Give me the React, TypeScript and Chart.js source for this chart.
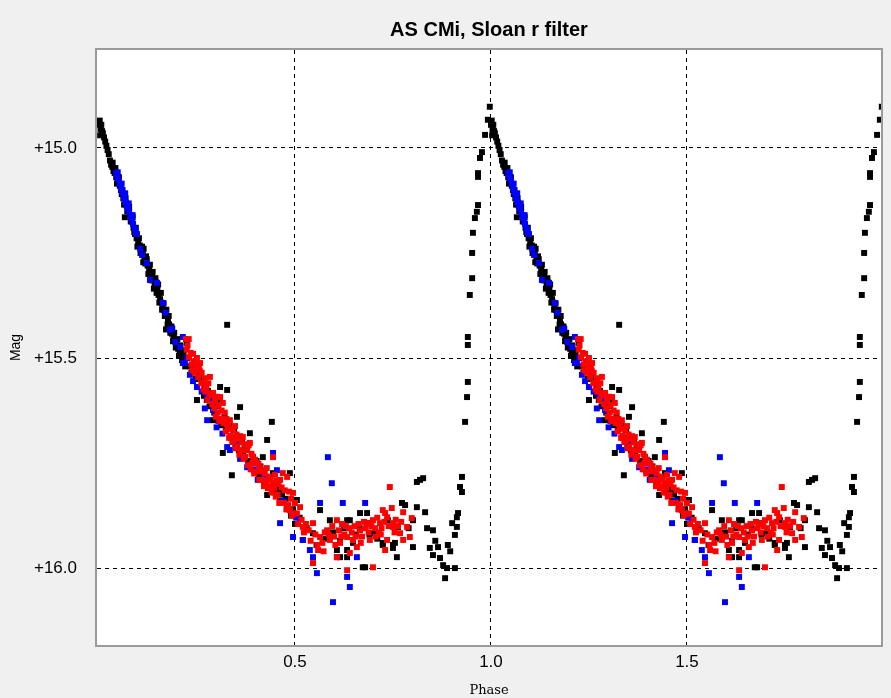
import React, { useEffect, useRef } from "react";
import { Chart, registerables } from "chart.js";

Chart.register(...registerables);

const chartTitle = "AS CMi, Sloan r filter";
const xAxisLabel = "Phase";
const yAxisLabel = "Mag";
const xTicks = [0.5, 1.0, 1.5];
const yTicks = [15.0, 15.5, 16.0];
const cycleOffsets = [0, 1];

// [phase, magnitude]
const blackPts: [number, number][] = [
  [0.000, 14.945], [0.002, 14.935], [0.004, 14.955], [0.006, 14.945], [0.008, 14.96], [0.003, 14.97],
  [0.010, 14.965], [0.013, 14.975], [0.016, 14.985], [0.019, 14.995], [0.022, 15.005], [0.025, 15.015],
  [0.028, 15.03], [0.031, 15.04], [0.034, 15.045], [0.037, 15.055], [0.040, 15.06], [0.044, 15.07],
  [0.048, 15.08], [0.053, 15.09], [0.058, 15.11], [0.062, 15.12], [0.066, 15.165], [0.070, 15.135],
  [0.075, 15.15], [0.079, 15.16], [0.084, 15.175], [0.088, 15.19], [0.092, 15.205], [0.096, 15.215],
  [0.100, 15.225], [0.104, 15.232], [0.108, 15.245], [0.112, 15.25], [0.116, 15.262], [0.120, 15.258],
  [0.113, 15.272], [0.124, 15.28], [0.128, 15.288], [0.131, 15.298], [0.135, 15.305], [0.138, 15.315],
  [0.142, 15.325], [0.145, 15.32], [0.149, 15.338], [0.152, 15.35], [0.156, 15.36], [0.159, 15.368],
  [0.162, 15.375], [0.166, 15.386], [0.169, 15.392], [0.173, 15.4], [0.176, 15.412], [0.179, 15.42],
  [0.171, 15.432], [0.183, 15.435], [0.186, 15.442], [0.190, 15.452], [0.194, 15.46], [0.198, 15.47],
  [0.202, 15.478], [0.206, 15.488], [0.210, 15.482], [0.214, 15.498], [0.224, 15.464], [0.218, 15.508],
  [0.035, 15.035], [0.042, 15.048], [0.046, 15.085], [0.051, 15.07], [0.056, 15.1], [0.060, 15.1],
  [0.064, 15.135], [0.068, 15.12], [0.072, 15.15], [0.077, 15.14], [0.081, 15.175], [0.086, 15.165],
  [0.090, 15.2], [0.094, 15.19], [0.098, 15.235], [0.102, 15.215], [0.106, 15.25], [0.110, 15.235],
  [0.114, 15.24], [0.118, 15.275], [0.122, 15.265], [0.126, 15.3], [0.130, 15.278], [0.133, 15.315],
  [0.137, 15.295], [0.140, 15.335], [0.144, 15.31], [0.147, 15.345], [0.151, 15.325], [0.154, 15.368],
  [0.158, 15.345], [0.161, 15.385], [0.165, 15.37], [0.168, 15.4], [0.172, 15.385], [0.175, 15.42],
  [0.178, 15.4], [0.182, 15.44], [0.185, 15.425], [0.189, 15.46], [0.192, 15.44], [0.196, 15.475],
  [0.200, 15.455], [0.204, 15.495], [0.208, 15.47], [0.212, 15.505], [0.216, 15.485], [0.220, 15.52],
  [0.226, 15.5], [0.232, 15.52], [0.236, 15.535], [0.241, 15.525], [0.247, 15.55], [0.253, 15.535],
  [0.268, 15.59], [0.275, 15.6], [0.282, 15.615], [0.294, 15.63], [0.303, 15.6], [0.312, 15.66],
  [0.324, 15.67], [0.337, 15.69], [0.348, 15.705], [0.357, 15.72], [0.368, 15.73], [0.380, 15.745],
  [0.397, 15.77], [0.408, 15.78], [0.422, 15.8], [0.447, 15.82], [0.462, 15.84], [0.480, 15.86],
  [0.490, 15.875], [0.500, 15.895],
  [0.327, 15.421], [0.250, 15.6], [0.258, 15.545], [0.263, 15.555], [0.270, 15.565], [0.278, 15.578],
  [0.285, 15.59], [0.291, 15.648], [0.298, 15.615], [0.309, 15.569], [0.316, 15.726], [0.320, 15.64],
  [0.327, 15.576], [0.333, 15.66], [0.339, 15.779], [0.345, 15.672], [0.352, 15.64], [0.360, 15.617],
  [0.365, 15.695], [0.372, 15.708], [0.385, 15.679], [0.392, 15.735], [0.402, 15.745], [0.412, 15.758],
  [0.418, 15.736], [0.429, 15.695], [0.429, 15.826], [0.436, 15.785], [0.441, 15.652], [0.444, 15.774],
  [0.452, 15.8], [0.459, 15.812], [0.467, 15.825], [0.476, 15.835], [0.487, 15.774], [0.495, 15.86],
  [0.505, 15.838], [0.512, 15.88], [0.520, 15.933], [0.530, 15.905], [0.546, 15.917], [0.555, 15.945],
  [0.564, 15.862], [0.575, 15.93], [0.589, 15.886], [0.597, 15.915], [0.607, 15.957], [0.615, 15.935],
  [0.615, 15.974], [0.625, 15.905], [0.633, 15.974], [0.633, 15.886], [0.633, 15.957], [0.640, 15.886],
  [0.648, 15.94], [0.655, 15.92], [0.666, 15.869], [0.665, 15.905], [0.673, 15.998], [0.679, 15.998],
  [0.684, 15.869], [0.684, 15.893], [0.690, 15.92], [0.699, 15.917], [0.710, 15.93], [0.724, 15.94],
  [0.724, 15.945], [0.737, 15.886], [0.750, 15.945], [0.750, 15.952], [0.755, 15.94], [0.760, 15.974],
  [0.763, 15.902], [0.773, 15.845], [0.781, 15.85], [0.790, 15.905], [0.801, 15.886], [0.801, 15.95],
  [0.811, 15.855], [0.811, 15.795], [0.819, 15.79], [0.827, 15.786], [0.832, 15.867], [0.837, 15.905],
  [0.844, 15.952], [0.852, 15.91], [0.852, 15.969], [0.858, 15.935], [0.865, 15.95], [0.870, 15.976],
  [0.878, 15.993], [0.883, 16.024], [0.888, 16.0], [0.890, 15.945], [0.896, 15.96], [0.901, 15.893],
  [0.908, 16.0], [0.908, 15.921], [0.913, 15.902], [0.913, 15.879], [0.916, 15.869], [0.921, 15.807],
  [0.926, 15.783], [0.926, 15.819], [0.934, 15.652], [0.939, 15.593], [0.941, 15.557], [0.941, 15.469],
  [0.941, 15.45], [0.946, 15.35], [0.952, 15.31], [0.952, 15.25], [0.954, 15.202], [0.959, 15.167],
  [0.964, 15.152], [0.967, 15.136], [0.967, 15.069], [0.967, 15.06], [0.972, 15.024], [0.977, 15.01],
  [0.985, 14.969], [0.992, 14.933], [0.997, 14.902],
];

const bluePts: [number, number][] = [
  [0.044, 15.06], [0.047, 15.068], [0.050, 15.075], [0.053, 15.085], [0.056, 15.095], [0.059, 15.102],
  [0.061, 15.108], [0.064, 15.118], [0.066, 15.124], [0.069, 15.13], [0.071, 15.138], [0.074, 15.145],
  [0.077, 15.152], [0.080, 15.16], [0.082, 15.167], [0.085, 15.175], [0.087, 15.181], [0.091, 15.192],
  [0.094, 15.2], [0.105, 15.24], [0.110, 15.255], [0.122, 15.274],
  [0.130, 15.314], [0.148, 15.321], [0.163, 15.369],
  [0.170, 15.392], [0.181, 15.433], [0.195, 15.462], [0.207, 15.474], [0.214, 15.45],
  [0.214, 15.512], [0.219, 15.512], [0.232, 15.54], [0.250, 15.569], [0.262, 15.58], [0.276, 15.593],
  [0.276, 15.648], [0.291, 15.624], [0.305, 15.65], [0.327, 15.712], [0.334, 15.719], [0.350, 15.7],
  [0.378, 15.76], [0.395, 15.765], [0.420, 15.78], [0.444, 15.726], [0.454, 15.767], [0.462, 15.893],
  [0.470, 15.84], [0.480, 15.855], [0.495, 15.926], [0.503, 15.88], [0.520, 15.933], [0.538, 15.957],
  [0.546, 15.974], [0.556, 16.012], [0.564, 15.845], [0.584, 15.736], [0.594, 15.798], [0.597, 16.081],
  [0.607, 15.974], [0.622, 15.845], [0.633, 16.021], [0.640, 16.045], [0.658, 15.974], [0.679, 15.845],
  [0.048, 15.058], [0.058, 15.085], [0.067, 15.108], [0.076, 15.132], [0.086, 15.16], [0.097, 15.205],
  [0.187, 15.43], [0.225, 15.5], [0.240, 15.555],
  [0.270, 15.62], [0.285, 15.6], [0.300, 15.665], [0.315, 15.68], [0.360, 15.74], [0.405, 15.79],
];

const redPts: [number, number][] = [
  [0.222, 15.455], [0.226, 15.47], [0.230, 15.498], [0.234, 15.488], [0.238, 15.529], [0.242, 15.508],
  [0.246, 15.515], [0.250, 15.5], [0.255, 15.52], [0.258, 15.512], [0.262, 15.535], [0.265, 15.56],
  [0.270, 15.548], [0.274, 15.572], [0.279, 15.56], [0.283, 15.545], [0.287, 15.588], [0.291, 15.583],
  [0.296, 15.6], [0.300, 15.592], [0.305, 15.612], [0.309, 15.593], [0.313, 15.625], [0.316, 15.607],
  [0.321, 15.63], [0.325, 15.645], [0.330, 15.658], [0.334, 15.648], [0.338, 15.668], [0.342, 15.671],
  [0.347, 15.662], [0.351, 15.682], [0.356, 15.692], [0.360, 15.686], [0.364, 15.7], [0.367, 15.688],
  [0.371, 15.705], [0.375, 15.718], [0.378, 15.719], [0.382, 15.708], [0.385, 15.702], [0.389, 15.728],
  [0.393, 15.735], [0.398, 15.742], [0.403, 15.75], [0.407, 15.752], [0.411, 15.76], [0.414, 15.77],
  [0.418, 15.767], [0.423, 15.775], [0.428, 15.762], [0.433, 15.782], [0.438, 15.79], [0.444, 15.736],
  [0.444, 15.798], [0.449, 15.778], [0.453, 15.792], [0.458, 15.8], [0.462, 15.79], [0.466, 15.808],
  [0.469, 15.774], [0.474, 15.815], [0.480, 15.783], [0.485, 15.818], [0.487, 15.862], [0.490, 15.835],
  [0.495, 15.821], [0.500, 15.845], [0.505, 15.87], [0.513, 15.855], [0.517, 15.885], [0.520, 15.902],
  [0.528, 15.895], [0.535, 15.91], [0.546, 15.893], [0.546, 15.988], [0.552, 15.92], [0.559, 15.957],
  [0.564, 15.926], [0.570, 15.94], [0.576, 15.915], [0.582, 15.91], [0.589, 15.933], [0.595, 15.9],
  [0.600, 15.925], [0.607, 15.886], [0.607, 15.974], [0.612, 15.91], [0.615, 15.94], [0.620, 15.895],
  [0.626, 15.92], [0.633, 15.926], [0.633, 16.005], [0.638, 15.905], [0.640, 15.964], [0.645, 15.915],
  [0.648, 15.933], [0.652, 15.9], [0.658, 15.95], [0.662, 15.895], [0.666, 15.91], [0.671, 15.925],
  [0.676, 15.89], [0.680, 15.905], [0.684, 15.893], [0.688, 15.915], [0.691, 15.933], [0.695, 15.9],
  [0.699, 15.886], [0.699, 15.998], [0.704, 15.905], [0.710, 15.88], [0.714, 15.915], [0.717, 15.893],
  [0.721, 15.905], [0.724, 15.862], [0.728, 15.89], [0.730, 15.869], [0.730, 15.957], [0.735, 15.879],
  [0.735, 15.933], [0.742, 15.807], [0.747, 15.857], [0.750, 15.893], [0.750, 15.902], [0.757, 15.885],
  [0.763, 15.9], [0.768, 15.917], [0.776, 15.867], [0.776, 15.933], [0.786, 15.902], [0.793, 15.926],
  [0.798, 15.881],
  [0.224, 15.48], [0.229, 15.455], [0.236, 15.515], [0.240, 15.49], [0.244, 15.535], [0.249, 15.525],
  [0.253, 15.545], [0.257, 15.53], [0.261, 15.56], [0.267, 15.575], [0.272, 15.58], [0.277, 15.6],
  [0.281, 15.585], [0.289, 15.61], [0.294, 15.62], [0.298, 15.64], [0.303, 15.63], [0.307, 15.65],
  [0.311, 15.645], [0.318, 15.655], [0.323, 15.675], [0.328, 15.668], [0.332, 15.69], [0.336, 15.685],
  [0.340, 15.7], [0.345, 15.695], [0.349, 15.715], [0.353, 15.71], [0.358, 15.73], [0.362, 15.72],
  [0.369, 15.74], [0.373, 15.735], [0.380, 15.755], [0.387, 15.765], [0.391, 15.75], [0.396, 15.775],
  [0.401, 15.77], [0.409, 15.79], [0.416, 15.79], [0.421, 15.805], [0.426, 15.795], [0.431, 15.81],
  [0.436, 15.805], [0.441, 15.82], [0.447, 15.81], [0.451, 15.83], [0.456, 15.825], [0.460, 15.845],
  [0.472, 15.845], [0.478, 15.86], [0.483, 15.85], [0.492, 15.875], [0.498, 15.87], [0.508, 15.895],
  [0.523, 15.915], [0.540, 15.935], [0.557, 15.945], [0.573, 15.96],
  [0.586, 15.92], [0.603, 15.945], [0.618, 15.925], [0.630, 15.9], [0.655, 15.925], [0.668, 15.94],
  [0.690, 15.895], [0.706, 15.925], [0.719, 15.92], [0.739, 15.9], [0.754, 15.915], [0.771, 15.89],
];

const fold = (pts: [number, number][]) =>
  cycleOffsets.flatMap((c) => pts.map(([p, m]) => ({ x: p + c, y: m })));

const framePlugin = {
  id: "framePlugin",
  beforeDraw(chart: any) {
    const { ctx, width, height, chartArea } = chart;
    const { left, top, right, bottom } = chartArea;
    ctx.save();
    ctx.fillStyle = "#f0f0f0";
    ctx.fillRect(0, 0, width, height);
    ctx.fillStyle = "#ffffff";
    ctx.fillRect(left, top, right - left, bottom - top);
    ctx.restore();
  },
  afterDraw(chart: any) {
    const { ctx, chartArea } = chart;
    const { left, top, right, bottom } = chartArea;
    ctx.save();
    ctx.strokeStyle = "#9a9a9a";
    ctx.lineWidth = 2;
    ctx.strokeRect(left - 1, top - 1, right - left + 2, bottom - top + 2);
    ctx.restore();
  },
};

const tickFont = { family: "'Liberation Sans', Arial, sans-serif", size: 17 };

export default function App() {
  const ref = useRef<HTMLCanvasElement>(null);

  useEffect(() => {
    const pointCommon = {
      showLine: false,
      pointStyle: "rect" as const,
      pointRadius: 4.2,
      pointHoverRadius: 4.2,
      pointBorderWidth: 0,
      clip: 0,
    };
    const chart = new Chart(ref.current!, {
      type: "scatter",
      data: {
        datasets: [
          { label: "red", data: fold(redPts), pointBackgroundColor: "#ff0000", ...pointCommon },
          { label: "blue", data: fold(bluePts), pointBackgroundColor: "#0000ff", ...pointCommon },
          { label: "black", data: fold(blackPts), pointBackgroundColor: "#000000", ...pointCommon },
        ],
      },
      options: {
        responsive: false,
        devicePixelRatio: 1,
        animation: false,
        layout: { padding: { left: 0, right: 10, top: 0, bottom: 0 } },
        plugins: {
          legend: { display: false },
          tooltip: { enabled: false },
          title: {
            display: true,
            text: chartTitle,
            fullSize: false,
            color: "#000",
            font: { family: "'Liberation Sans', Arial, sans-serif", size: 20, weight: "bold" },
            padding: { top: 18, bottom: 8 },
          },
        },
        scales: {
          x: {
            type: "linear",
            min: -0.005,
            max: 1.995,
            afterBuildTicks: (scale: any) => {
              scale.ticks = xTicks.map((v) => ({ value: v }));
            },
            afterFit: (scale: any) => {
              scale.height = 53;
            },
            ticks: {
              color: "#000",
              font: tickFont,
              padding: 7,
              maxRotation: 0,
              autoSkip: false,
              callback: (v: any) => Number(v).toFixed(1),
            },
            grid: { color: "#000", lineWidth: 1, drawTicks: false },
            border: { display: false, dash: [4, 4] },
            title: {
              display: true,
              text: xAxisLabel,
              color: "#000",
              font: { family: "'DejaVu Serif', serif", size: 13 },
              padding: { top: 0, bottom: 0 },
            },
          },
          y: {
            type: "linear",
            reverse: true,
            min: 14.767,
            max: 16.183,
            afterBuildTicks: (scale: any) => {
              scale.ticks = yTicks.map((v) => ({ value: v }));
            },
            afterFit: (scale: any) => {
              scale.width = 97;
            },
            ticks: {
              color: "#000",
              font: tickFont,
              padding: 20,
              autoSkip: false,
              callback: (v: any) => "+" + Number(v).toFixed(1),
            },
            grid: { color: "#000", lineWidth: 1, drawTicks: false },
            border: { display: false, dash: [4, 4] },
            title: {
              display: true,
              text: yAxisLabel,
              color: "#000",
              font: { family: "'Liberation Sans', Arial, sans-serif", size: 14 },
              padding: { top: 8, bottom: 0 },
            },
          },
        },
      },
      plugins: [framePlugin],
    });
    return () => chart.destroy();
  }, []);

  return (
    <div style={{ position: "fixed", left: 0, top: 0, width: 891, height: 698, background: "#f0f0f0" }}>
      <canvas ref={ref} width={891} height={698} style={{ display: "block", width: 891, height: 698 }} />
    </div>
  );
}
